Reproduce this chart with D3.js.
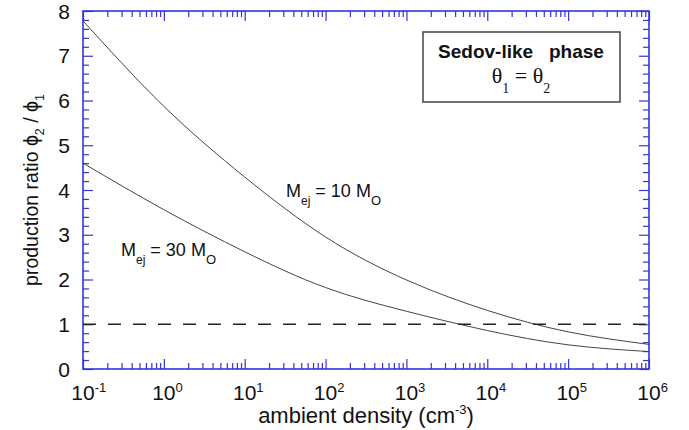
<!DOCTYPE html>
<html><head><meta charset="utf-8">
<script src="https://cdn.jsdelivr.net/npm/d3@7"></script>
<style>body{margin:0;background:#fff}svg{display:block}</style>
</head><body>
<svg id="c" width="689" height="430"></svg>
<script>
// ---- data ----
const densityExponents = [-1, 0, 1, 2, 3, 4, 5, 6];          // log10 of ambient density (cm^-3)
const ratioMej10 = [7.78, 5.87, 4.29, 2.95, 1.99, 1.31, 0.83, 0.55];
const ratioMej30 = [4.60, 3.56, 2.62, 1.82, 1.29, 0.86, 0.54, 0.39];
const referenceDensity = [0.1, 1e6];
const referenceRatio = [1, 1];
const xTickExponents = ["-1", "0", "1", "2", "3", "4", "5", "6"];
const yTickValues = [0, 1, 2, 3, 4, 5, 6, 7, 8];

// ---- layout ----
const svg = d3.select("#c");
const L = 83, R = 649, T = 11, B = 369;
const x = d3.scaleLog().domain([0.1, 1e6]).range([L, R]);
const y = d3.scaleLinear().domain([0, 8]).range([B, T]);
const axisColor = "#3434d6";
const sans = "'Liberation Sans', Arial, Helvetica, sans-serif";
const serif = "'Liberation Serif', 'Times New Roman', serif";

const xMajor = xTickExponents.map(e => Math.pow(10, +e));
const xMinor = [];
for (let d = -1; d < 6; d++) for (let k = 2; k <= 9; k++) xMinor.push(k * Math.pow(10, d));
const yMinor = d3.range(0, 40).map(i => i * 0.2).filter(v => Math.abs(v - Math.round(v)) > 1e-6);

function styleAxis(g) {
  g.select(".domain").remove();
  g.selectAll("line").attr("stroke", axisColor).attr("stroke-width", 1.2);
  g.selectAll("text").remove();
}
const axes = [
  [d3.axisBottom(x).tickValues(xMajor).tickSize(-10), `translate(0,${B})`],
  [d3.axisBottom(x).tickValues(xMinor).tickSize(-6), `translate(0,${B})`],
  [d3.axisTop(x).tickValues(xMajor).tickSize(-10), `translate(0,${T})`],
  [d3.axisTop(x).tickValues(xMinor).tickSize(-6), `translate(0,${T})`],
  [d3.axisLeft(y).tickValues(yTickValues).tickSize(-10), `translate(${L},0)`],
  [d3.axisLeft(y).tickValues(yMinor).tickSize(-6), `translate(${L},0)`],
  [d3.axisRight(y).tickValues(yTickValues).tickSize(-10), `translate(${R},0)`],
  [d3.axisRight(y).tickValues(yMinor).tickSize(-6), `translate(${R},0)`]
];
axes.forEach(([ax, tr]) => svg.append("g").attr("transform", tr).call(ax.tickFormat("")).call(styleAxis));

svg.append("rect").attr("x", L).attr("y", T).attr("width", R - L).attr("height", B - T)
  .attr("fill", "none").attr("stroke", axisColor).attr("stroke-width", 1.6);

// ---- curves ----
const line = d3.line().x(d => x(d[0])).y(d => y(d[1])).curve(d3.curveNatural);
[ratioMej10, ratioMej30].forEach(series => {
  svg.append("path")
    .datum(densityExponents.map((e, i) => [Math.pow(10, e), series[i]]))
    .attr("d", line).attr("fill", "none").attr("stroke", "#444").attr("stroke-width", 1);
});
svg.append("path")
  .datum(referenceDensity.map((d, i) => [d, referenceRatio[i]]))
  .attr("d", d3.line().x(d => x(d[0])).y(d => y(d[1])))
  .attr("fill", "none").attr("stroke", "#222").attr("stroke-width", 1.4)
  .attr("stroke-dasharray", "13,12");

// ---- tick labels ----
svg.append("g").selectAll("text").data(yTickValues).join("text")
  .attr("x", 70).attr("y", d => y(d)).attr("dy", "0.36em")
  .attr("text-anchor", "end").attr("font-family", sans).attr("font-size", 21)
  .attr("fill", "#111").text(d => d);

const xl = svg.append("g").selectAll("text").data(xTickExponents).join("text")
  .attr("x", d => x(Math.pow(10, +d)) - 11.7).attr("y", 400)
  .attr("font-family", sans).attr("font-size", 21).attr("fill", "#111");
xl.append("tspan").text("10");
xl.append("tspan").attr("font-size", 13).attr("dy", -8).text(d => d);

// ---- axis titles ----
const xt = svg.append("text").attr("x", (L + R) / 2).attr("y", 423).attr("text-anchor", "middle")
  .attr("font-family", sans).attr("font-size", 22).attr("fill", "#111");
xt.append("tspan").text("ambient density (cm");
xt.append("tspan").attr("font-size", 13).attr("dy", -9).text("-3");
xt.append("tspan").attr("dy", 9).text(")");

const yt = svg.append("text").attr("transform", "translate(38,190) rotate(-90)")
  .attr("text-anchor", "middle").attr("font-family", sans).attr("font-size", 19.5).attr("fill", "#111");
yt.append("tspan").text("production ratio \u03D5");
yt.append("tspan").attr("font-size", 12.5).attr("dy", 6).text("2");
yt.append("tspan").attr("dy", -6).text(" / \u03D5");
yt.append("tspan").attr("font-size", 12.5).attr("dy", 6).text("1");

// ---- curve labels ----
function massLabel(x0, y0, val) {
  const t = svg.append("text").attr("x", x0).attr("y", y0)
    .attr("font-family", sans).attr("font-size", 18).attr("fill", "#111");
  t.append("tspan").text("M");
  t.append("tspan").attr("font-size", 12).attr("dy", 8).text("ej");
  t.append("tspan").attr("dy", -8).text(" = " + val + " M");
  t.append("tspan").attr("font-size", 13).attr("dy", 8).text("O");
}
massLabel(286, 197, 10);
massLabel(121, 256, 30);

// ---- legend box ----
svg.append("rect").attr("x", 423).attr("y", 32).attr("width", 197).attr("height", 70)
  .attr("fill", "#fff").attr("stroke", "#444").attr("stroke-width", 1.5);
svg.append("text").attr("x", 521).attr("y", 58).attr("text-anchor", "middle")
  .attr("font-family", sans).attr("font-weight", "bold").attr("font-size", 19)
  .attr("fill", "#111").style("white-space", "pre").text("Sedov-like   phase");
const th = svg.append("text").attr("x", 521).attr("y", 83).attr("text-anchor", "middle")
  .attr("font-family", serif).attr("font-size", 22).attr("fill", "#111");
th.append("tspan").text("\u03B8");
th.append("tspan").attr("font-size", 14).attr("dy", 10).text("1");
th.append("tspan").attr("dy", -10).text(" = \u03B8");
th.append("tspan").attr("font-size", 14).attr("dy", 10).text("2");
</script>
</body></html>
